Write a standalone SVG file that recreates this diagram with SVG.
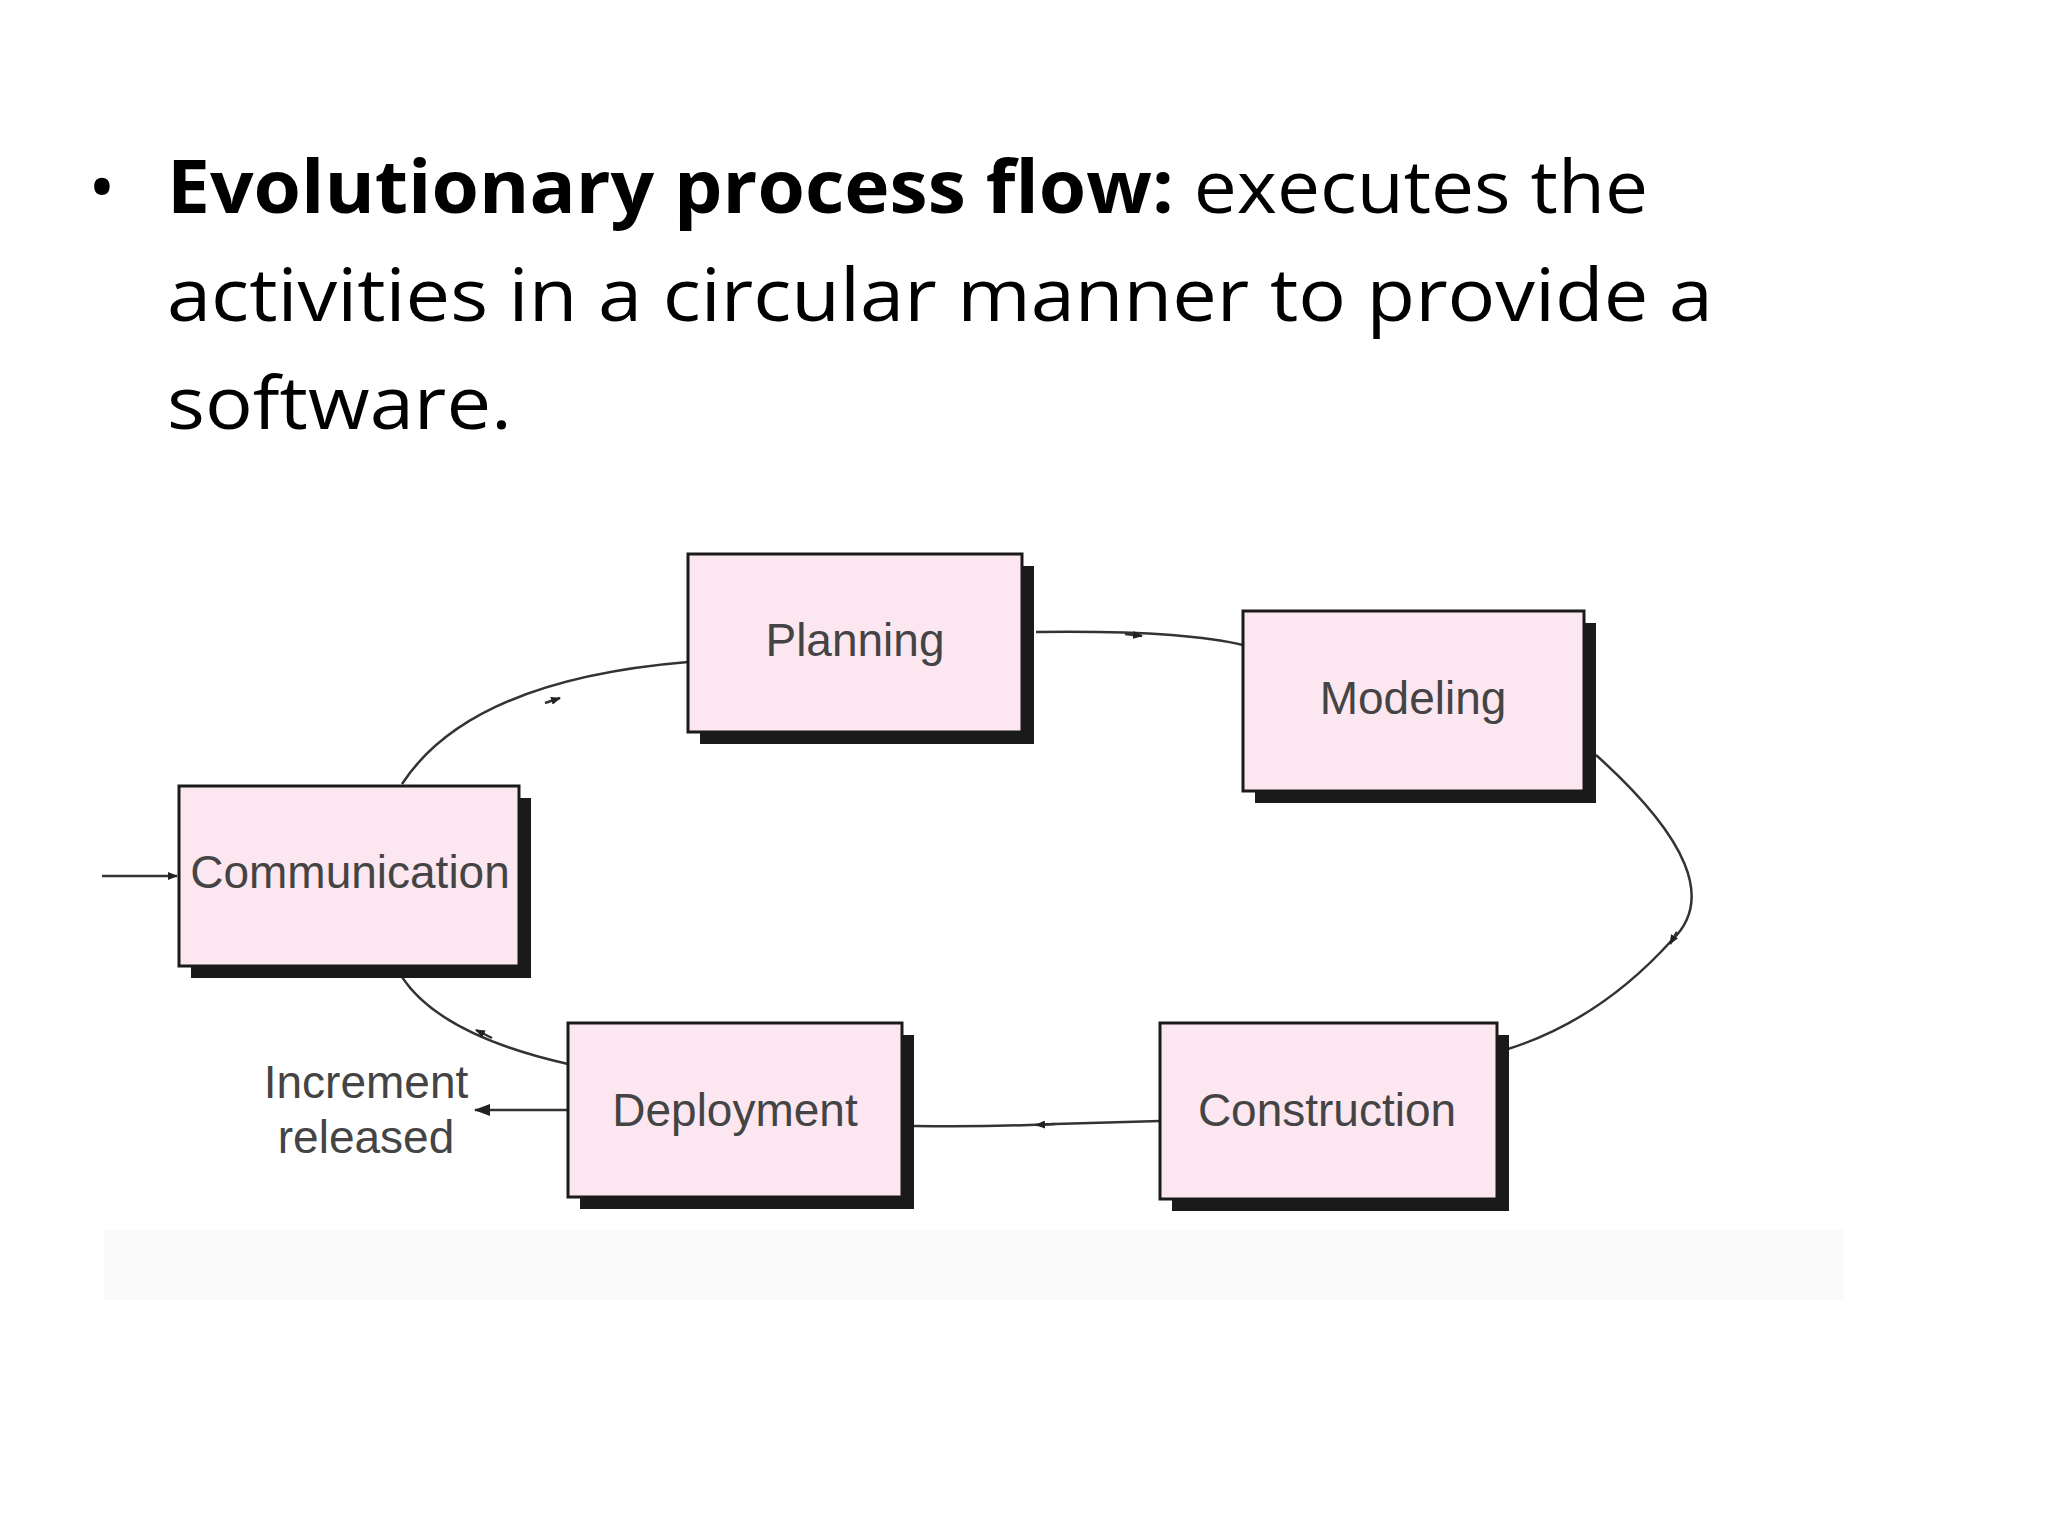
<svg xmlns="http://www.w3.org/2000/svg" width="2048" height="1536" viewBox="0 0 2048 1536">
<defs>
<marker id="ah" markerWidth="10" markerHeight="8" refX="9" refY="4" orient="auto" markerUnits="userSpaceOnUse"><path d="M0,0 L10,4 L0,8 z" fill="#222"/></marker>
<marker id="ah2" markerWidth="16" markerHeight="12" refX="15" refY="6" orient="auto" markerUnits="userSpaceOnUse"><path d="M0,0 L16,6 L0,12 z" fill="#222"/></marker>
</defs>
<style>
.sh{fill:#1a1a1a}
.bx{fill:#fce6f0;stroke:#1a1a1a;stroke-width:3}
.lb{font-family:"Liberation Sans Narrow","Liberation Sans",sans-serif;font-size:46px;fill:#444;text-anchor:middle}
.c{fill:none;stroke:#333;stroke-width:2.5}
.t{font-family:"Open Sans","Noto Sans",sans-serif;font-size:74px;fill:#000}
</style>
<rect width="2048" height="1536" fill="#fff"/>
<rect x="104" y="1230" width="1740" height="70" fill="#fafafa"/>
<text class="t" x="88" y="213">•</text>
<text class="t" x="167" y="213" textLength="1481" lengthAdjust="spacingAndGlyphs"><tspan font-weight="bold">Evolutionary process flow:</tspan> executes the</text>
<text class="t" x="167" y="321" textLength="1546" lengthAdjust="spacingAndGlyphs">activities in a circular manner to provide a</text>
<text class="t" x="167" y="429" textLength="345" lengthAdjust="spacingAndGlyphs">software.</text>
<g id="connectors">
<path class="c" d="M402,784 Q470,680 688,662"/>
<path class="c" d="M545,703 L560,698" marker-end="url(#ah)"/>
<path class="c" d="M1036,632 Q1180,630 1243,645"/>
<path class="c" d="M1125,634 L1142,636" marker-end="url(#ah)"/>
<path class="c" d="M1596,755 Q1735,880 1672,940 Q1600,1020 1508,1049"/>
<path class="c" d="M1677,932 L1670,944" marker-end="url(#ah)"/>
<path class="c" d="M1160,1121 L1055,1124 Q990,1127 914,1126"/>
<path class="c" d="M1055,1124 L1036,1125" marker-end="url(#ah)"/>
<path class="c" d="M568,1064 Q440,1035 402,977"/>
<path class="c" d="M492,1038 L476,1030" marker-end="url(#ah)"/>
<path class="c" d="M102,876 L177,876" marker-end="url(#ah)"/>
<path class="c" d="M568,1110 L475,1110" stroke-width="4" marker-end="url(#ah2)"/>
</g>
<g id="planning"><rect class="sh" x="700" y="566" width="334" height="178"/><rect class="bx" x="688" y="554" width="334" height="178"/><text class="lb" x="855" y="656">Planning</text></g>
<g id="modeling"><rect class="sh" x="1255" y="623" width="341" height="180"/><rect class="bx" x="1243" y="611" width="341" height="180"/><text class="lb" x="1413" y="714">Modeling</text></g>
<g id="communication"><rect class="sh" x="191" y="798" width="340" height="180"/><rect class="bx" x="179" y="786" width="340" height="180"/><text class="lb" x="350" y="888">Communication</text></g>
<g id="deployment"><rect class="sh" x="580" y="1035" width="334" height="174"/><rect class="bx" x="568" y="1023" width="334" height="174"/><text class="lb" x="735" y="1126">Deployment</text></g>
<g id="construction"><rect class="sh" x="1172" y="1035" width="337" height="176"/><rect class="bx" x="1160" y="1023" width="337" height="176"/><text class="lb" x="1327" y="1126">Construction</text></g>
<g id="increment"><text class="lb" x="366" y="1098">Increment</text><text class="lb" x="366" y="1153">released</text></g>
</svg>
